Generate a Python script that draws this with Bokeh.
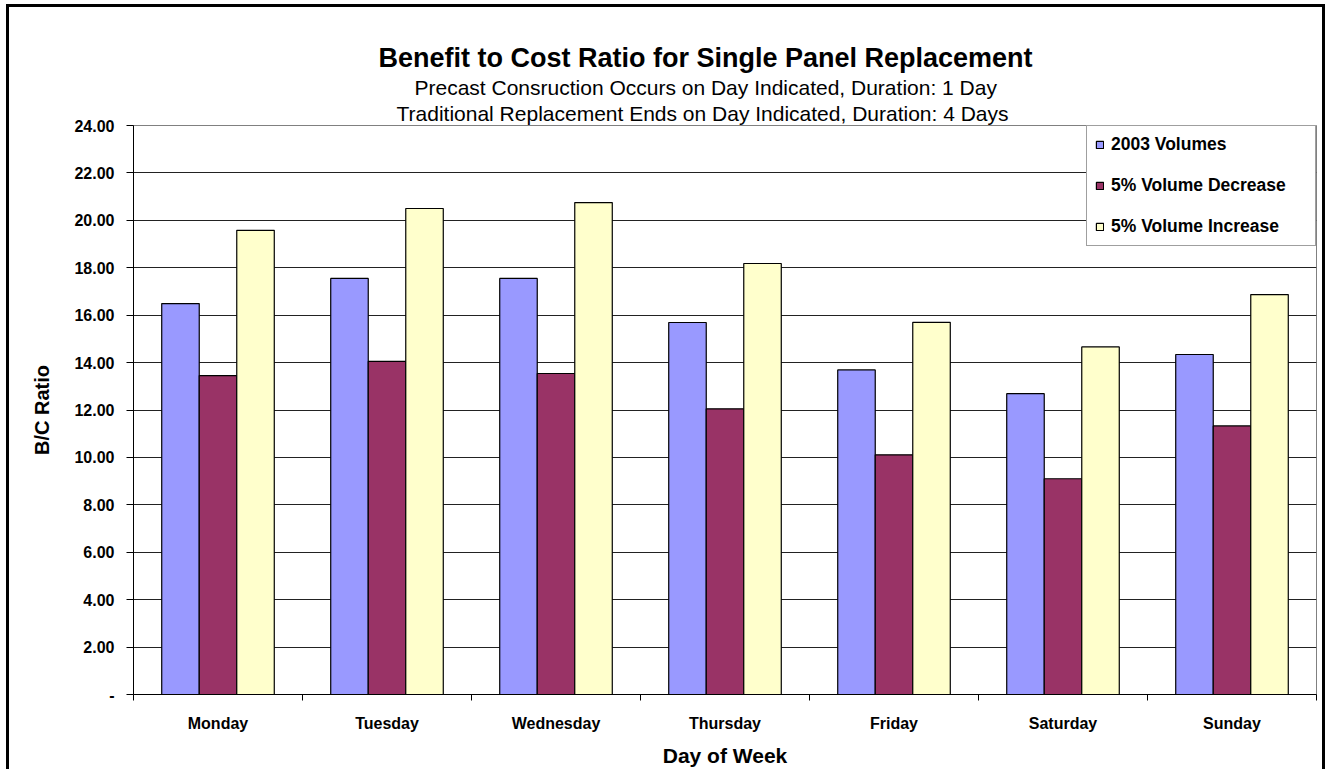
from bokeh.plotting import figure
from bokeh.models import ColumnDataSource, FixedTicker, Range1d, Title
from bokeh.embed import file_html
from bokeh.resources import INLINE

days = ["Monday", "Tuesday", "Wednesday", "Thursday", "Friday", "Saturday", "Sunday"]
series_names = ["2003 Volumes", "5% Volume Decrease", "5% Volume Increase"]
vol_2003 = [16.49, 17.55, 17.55, 15.69, 13.69, 12.69, 14.34]
vol_decrease = [13.45, 14.05, 13.54, 12.05, 10.11, 9.10, 11.33]
vol_increase = [19.58, 20.50, 20.75, 18.18, 15.70, 14.66, 16.87]
y_ticks = [0, 2, 4, 6, 8, 10, 12, 14, 16, 18, 20, 22, 24]
y_tick_labels = ["-", "2.00", "4.00", "6.00", "8.00", "10.00", "12.00",
                 "14.00", "16.00", "18.00", "20.00", "22.00", "24.00"]
title_lines = ["Benefit to Cost Ratio for Single Panel Replacement",
               "Precast Consruction Occurs on Day Indicated, Duration: 1 Day",
               "Traditional Replacement Ends on Day Indicated, Duration: 4 Days"]
colors = ["#9999FF", "#993366", "#FFFFCC"]

FONT = "Liberation Sans"
n = len(days)
bar_w = 0.222
centers = [i + 0.5 for i in range(n)]

p = figure(width=1313, height=762, output_backend="svg", toolbar_location=None,
           x_range=Range1d(0, n), y_range=Range1d(0, 24),
           min_border_left=124, min_border_right=6, min_border_top=118,
           min_border_bottom=75)
p.styles = {"margin-left": "9px", "margin-top": "7px",
            "outline": "3px solid black", "outline-offset": "0px"}
p.background_fill_color = "white"
p.border_fill_color = "white"
p.outline_line_color = "#808080"
p.outline_line_width = 1

series = [vol_2003, vol_decrease, vol_increase]
for k, (vals, name, col) in enumerate(zip(series, series_names, colors)):
    xs = [c + (k - 1) * bar_w for c in centers]
    src = ColumnDataSource(dict(x=xs, top=vals, day=days))
    p.vbar(x="x", top="top", bottom=0, width=bar_w, source=src,
           fill_color=col, line_color="black", line_width=1.2, legend_label=name)

# x axis: labels at category centers, tick marks at category boundaries
xa = p.xaxis[0]
xa.ticker = FixedTicker(ticks=centers, minor_ticks=list(range(n + 1)))
xa.major_label_overrides = {**{c: d for c, d in zip(centers, days)},
                            **{str(c): d for c, d in zip(centers, days)}}
xa.major_tick_line_color = None
xa.major_tick_out = 0
xa.major_tick_in = 0
xa.minor_tick_out = 6
xa.minor_tick_in = 0
xa.minor_tick_line_color = "black"
xa.axis_line_color = "black"
xa.major_label_text_font = FONT
xa.major_label_text_font_style = "bold"
xa.major_label_text_font_size = "16px"
xa.major_label_text_color = "black"
xa.major_label_standoff = 14
xa.axis_label = "Day of Week"
xa.axis_label_text_font = FONT
xa.axis_label_text_font_style = "bold"
xa.axis_label_text_font_size = "21px"
xa.axis_label_text_color = "black"
xa.axis_label_standoff = 9

ya = p.yaxis[0]
ya.ticker = FixedTicker(ticks=y_ticks, minor_ticks=[])
ya.major_label_overrides = {**{t: l for t, l in zip(y_ticks, y_tick_labels)},
                            **{str(t): l for t, l in zip(y_ticks, y_tick_labels)}}
ya.major_tick_out = 7
ya.major_tick_in = 0
ya.major_tick_line_color = "black"
ya.axis_line_color = "black"
ya.major_label_text_font = FONT
ya.major_label_text_font_style = "bold"
ya.major_label_text_font_size = "16px"
ya.major_label_text_color = "black"
ya.major_label_standoff = 12
ya.axis_label = "B/C Ratio"
ya.axis_label_text_font = FONT
ya.axis_label_text_font_style = "bold"
ya.axis_label_text_font_size = "20px"
ya.axis_label_text_color = "black"
ya.axis_label_standoff = 18

p.xgrid.grid_line_color = None
p.ygrid.grid_line_color = "#222222"
p.ygrid.grid_line_width = 1

# titles: added nearest-first (last added sits on top)
title_specs = [("27px", "bold", 245, 2), ("21px", "normal", 281, 0), ("21px", "normal", 263, 2)]
for txt, (fs, st, off, so) in reversed(list(zip(title_lines, title_specs))):
    p.add_layout(Title(text=txt, align="left", offset=off, standoff=so,
                       text_font=FONT, text_font_size=fs, text_font_style=st,
                       text_color="black"), "above")

lg = p.legend[0]
lg.location = "top_right"
lg.margin = 0
lg.padding = 8
lg.spacing = 20
lg.glyph_width = 9
lg.glyph_height = 9
lg.label_standoff = 7
lg.label_width = 196
lg.label_text_font = FONT
lg.label_text_font_style = "bold"
lg.label_text_font_size = "17.5px"
lg.label_text_color = "black"
lg.border_line_color = "#404040"
lg.border_line_width = 1
lg.background_fill_color = "white"
lg.background_fill_alpha = 1.0

open("out.html", "w").write(file_html(p, INLINE))
